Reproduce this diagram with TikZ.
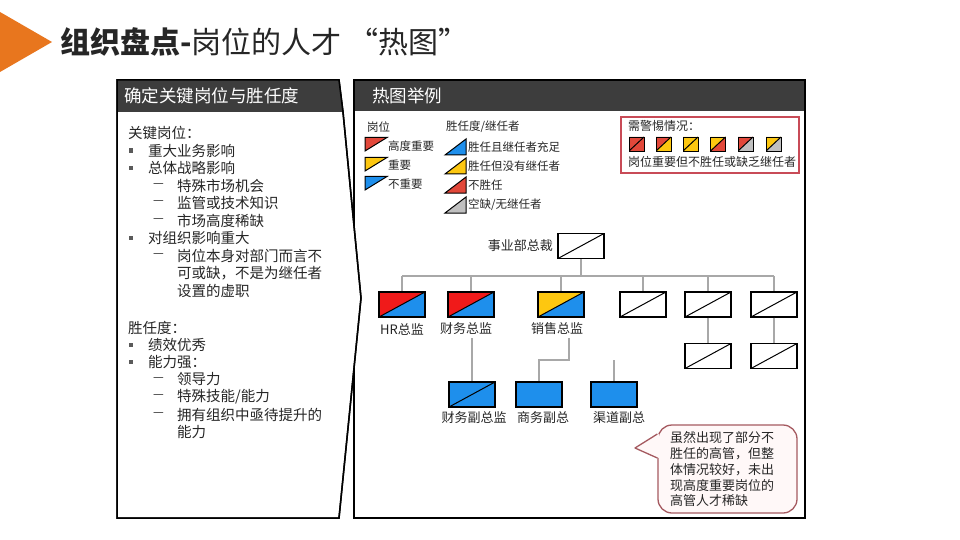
\documentclass[tikz,border=0pt]{standalone}
\usepackage{fontspec}
\setmainfont{Noto Sans CJK SC}
\usetikzlibrary{calc}
\definecolor{orng}{HTML}{E8761E}
\definecolor{hdr}{HTML}{3D3D3D}
\definecolor{txt}{HTML}{262626}
\definecolor{bulg}{HTML}{5A5A5A}
\definecolor{lgred}{HTML}{E2483A}
\definecolor{orgred}{HTML}{F01A1A}
\definecolor{blu}{HTML}{1E8FEC}
\definecolor{yel}{HTML}{FDC710}
\definecolor{gry}{HTML}{C0C0C0}
\definecolor{conngray}{HTML}{A8A8A8}
\definecolor{warnc}{HTML}{C84B57}
\definecolor{calc1}{HTML}{A55A60}
\definecolor{calf}{HTML}{FFF8F8}
\tikzset{
  body/.style={anchor=west, inner sep=0pt, text=txt, font=\fontsize{14.5}{17}\selectfont},
  dashtxt/.style={anchor=west, inner sep=0pt, text=txt, font=\fontsize{12}{14}\selectfont},
  bsq/.style={fill=bulg, minimum size=4.5pt, inner sep=0pt},
  hdrtxt/.style={anchor=west, inner sep=0pt, text=white, font=\fontsize{17.5}{20}\selectfont},
  lgd/.style={anchor=west, inner sep=0pt, text=txt, font=\fontsize{11.5}{14}\selectfont},
  warntxt/.style={anchor=west, inner sep=0pt, text=txt, font=\fontsize{12}{14}\selectfont},
  lbl/.style={inner sep=0pt, text=txt, font=\fontsize{13}{15}\selectfont},
  orgbox/.style={draw=black, line width=1.2pt, minimum width=46pt, minimum height=25pt, inner sep=0pt},
  warnsq/.style={draw=black, line width=0.9pt, minimum width=15pt, minimum height=14pt, inner sep=0pt},
  split/.style 2 args={path picture={
    \fill[#1] (path picture bounding box.north west) -- (path picture bounding box.north east) -- (path picture bounding box.south west) -- cycle;
    \fill[#2] (path picture bounding box.north east) -- (path picture bounding box.south east) -- (path picture bounding box.south west) -- cycle;
    \draw[black, line width=1pt] (path picture bounding box.south west) -- (path picture bounding box.north east);}},
  conn/.style={draw=conngray, line width=1.8pt},
  tri/.style={draw=black, line width=1pt, line join=miter},
}
\begin{document}
\begin{tikzpicture}[x=1pt,y=-1pt]
\useasboundingbox (0,0) rectangle (960,540);
\fill[white] (0,0) rectangle (960,540);

% title
\fill[orng] (0,12) -- (52,42) -- (0,72) -- cycle;
\node[anchor=west, inner sep=0pt, text=txt, font=\fontsize{30}{34}\selectfont] (title) at (60,42) {\bfseries 组织盘点-\mdseries 岗位的人才 “热图”};

% right panel
\draw[fill=white, line width=1.5pt] (354,80) rectangle (805,518);
\fill[hdr] (354,80) rectangle (805,111);
\draw[line width=1.5pt] (354,80) rectangle (805,518);
\node[hdrtxt] (rhead) at (372,96) {热图举例};

% left panel
\draw[fill=white, line width=1.5pt, line join=miter] (117,80) -- (339,80) -- (343,112) -- (361,298) -- (339,518) -- (117,518) -- cycle;
\fill[hdr] (117,80) -- (339,80) -- (343,112) -- (117,112) -- cycle;
\draw[line width=1.5pt, line join=miter] (117,80) -- (339,80) -- (343,112) -- (361,298) -- (339,518) -- (117,518) -- cycle;
\node[hdrtxt] (lhead) at (124,96) {确定关键岗位与胜任度};

% left text
\node[body] (k0) at (128,133) {关键岗位：};
\node[bsq] (kb1) at (131,150.5) {}; \node[body] (k1) at (148,150.5) {重大业务影响};
\node[bsq] (kb2) at (131,168) {}; \node[body] (k2) at (148,168) {总体战略影响};
\node[dashtxt] (kd3) at (153,185.5) {—}; \node[body] (k3) at (177,185.5) {特殊市场机会};
\node[dashtxt] (kd4) at (153,203) {—}; \node[body] (k4) at (177,203) {监管或技术知识};
\node[dashtxt] (kd5) at (153,220.5) {—}; \node[body] (k5) at (177,220.5) {市场高度稀缺};
\node[bsq] (kb6) at (131,238) {}; \node[body] (k6) at (148,238) {对组织影响重大};
\node[dashtxt] (kd7) at (153,255.5) {—}; \node[body] (k7) at (177,255.5) {岗位本身对部门而言不};
\node[body] (k8) at (177,273) {可或缺，不是为继任者};
\node[body] (k9) at (177,290.5) {设置的虚职};

\node[body] (s0) at (128,328) {胜任度：};
\node[bsq] (sb1) at (131,345) {}; \node[body] (s1) at (148,345) {绩效优秀};
\node[bsq] (sb2) at (131,362) {}; \node[body] (s2) at (148,362) {能力强：};
\node[dashtxt] (sd3) at (153,379.5) {—}; \node[body] (s3) at (177,379.5) {领导力};
\node[dashtxt] (sd4) at (153,397) {—}; \node[body] (s4) at (177,397) {特殊技能/能力};
\node[dashtxt] (sd5) at (153,414.5) {—}; \node[body] (s5) at (177,414.5) {拥有组织中亟待提升的};
\node[body] (s6) at (177,432) {能力};

% legend
\node[lgd] (lgpos) at (367,127) {岗位};
\node[lgd] (lgsuc) at (446,127) {胜任度/继任者};
\filldraw[tri, fill=lgred] (365,137.5) -- (387,137.5) -- (365,151) -- cycle;
\filldraw[tri, fill=yel] (365,157.5) -- (387,157.5) -- (365,171) -- cycle;
\filldraw[tri, fill=blu] (365,176.5) -- (387,176.5) -- (365,190) -- cycle;
\node[lgd] (lp1) at (388,146) {高度重要};
\node[lgd] (lp2) at (388,165) {重要};
\node[lgd] (lp3) at (388,184) {不重要};
\filldraw[tri, fill=blu] (445,155) -- (466,139) -- (466,155) -- cycle;
\filldraw[tri, fill=yel] (445,174) -- (466,158) -- (466,174) -- cycle;
\filldraw[tri, fill=lgred] (445,193) -- (466,177) -- (466,193) -- cycle;
\filldraw[tri, fill=gry] (445,213) -- (466,197) -- (466,213) -- cycle;
\node[lgd] (ls1) at (468,147) {胜任且继任者充足};
\node[lgd] (ls2) at (468,166) {胜任但没有继任者};
\node[lgd] (ls3) at (468,185) {不胜任};
\node[lgd] (ls4) at (468,205) {空缺/无继任者};

% warning box
\draw[warnc, line width=1.3pt] (621,117) rectangle (799,173);
\node[warntxt] (wt1) at (628,126) {需警惕情况：};
\node[warnsq, split={lgred}{lgred}] (w1) at (636.5,144) {};
\node[warnsq, split={lgred}{yel}] (w2) at (663.5,144) {};
\node[warnsq, split={yel}{yel}] (w3) at (690.5,144) {};
\node[warnsq, split={yel}{lgred}] (w4) at (718,144) {};
\node[warnsq, split={lgred}{gry}] (w5) at (745.5,144) {};
\node[warnsq, split={yel}{gry}] (w6) at (773.5,144) {};
\node[warntxt] (wt2) at (628,162) {岗位重要但不胜任或缺乏继任者};

% org chart
\node[orgbox, split={white}{white}] (ceo) at (581,246) {};
\node[lbl, anchor=east] (ceol) at (553,246) {事业部总裁};
\node[orgbox, split={orgred}{blu}] (hr) at (402,304.5) {};
\node[orgbox, split={orgred}{blu}] (fin) at (471,304.5) {};
\node[orgbox, split={yel}{blu}] (sales) at (561,304.5) {};
\node[orgbox, split={white}{white}] (b1) at (643,304.5) {};
\node[orgbox, split={white}{white}] (b2) at (708,304.5) {};
\node[orgbox, split={white}{white}] (b3) at (774,304.5) {};
\node[orgbox, split={white}{white}] (b2b) at (708,356) {};
\node[orgbox, split={white}{white}] (b3b) at (774,356) {};
\node[orgbox, split={blu}{blu}] (fvp) at (472,394.5) {};
\node[orgbox, fill=blu] (bvp) at (539,394.5) {};
\node[orgbox, fill=blu] (cvp) at (614,394.5) {};

\node[lbl] (hrl) at (402,329) {HR总监};
\node[lbl] (finl) at (466,329) {财务总监};
\node[lbl] (salesl) at (557,329) {销售总监};
\node[lbl] (fvpl) at (474,418) {财务副总监};
\node[lbl] (bvpl) at (543,418) {商务副总};
\node[lbl] (cvpl) at (619,418) {渠道副总};

\coordinate (busy) at (0,276);
\draw[conn] (ceo.south) -- (ceo.south |- busy);
\draw[conn] (hr.north |- busy) -- (b3.north |- busy);
\foreach \n in {hr,fin,sales,b1,b2,b3} {\draw[conn] (\n.north |- busy) -- (\n.north);}
\draw[conn] (b2.south) -- (b2b.north);
\draw[conn] (b3.south) -- (b3b.north);
\draw[conn] (fvp.north |- finl.south) ++(0,3) -- (fvp.north);
\coordinate (salesdrop) at (569,338);
\draw[conn] (salesdrop) -- ++(0,22) -| (bvp.north);
\coordinate (cstub) at (614,360);
\draw[conn] (cstub) -- (cvp.north);

% callout
\node[draw=calc1, fill=calf, line width=1.3pt, rounded corners=14pt, minimum width=139pt, minimum height=88pt, inner sep=0pt] (note) at (727.5,469) {};
\coordinate (tailtip) at (635,448);
\fill[calf] ($(note.west)+(1.5,-35)$) -- (tailtip) -- ($(note.west)+(1.5,-11)$) -- cycle;
\draw[calc1, line width=1.3pt, line join=round] ($(note.west)+(0,-35)$) -- (tailtip) -- ($(note.west)+(0,-11)$);
\node[anchor=north west, inner sep=0pt, align=left, text=txt, font=\fontsize{13}{15.8}\selectfont] (notetxt) at (670,431.5) {虽然出现了部分不\\胜任的高管，但整\\体情况较好，未出\\现高度重要岗位的\\高管人才稀缺};
\end{tikzpicture}
\end{document}
